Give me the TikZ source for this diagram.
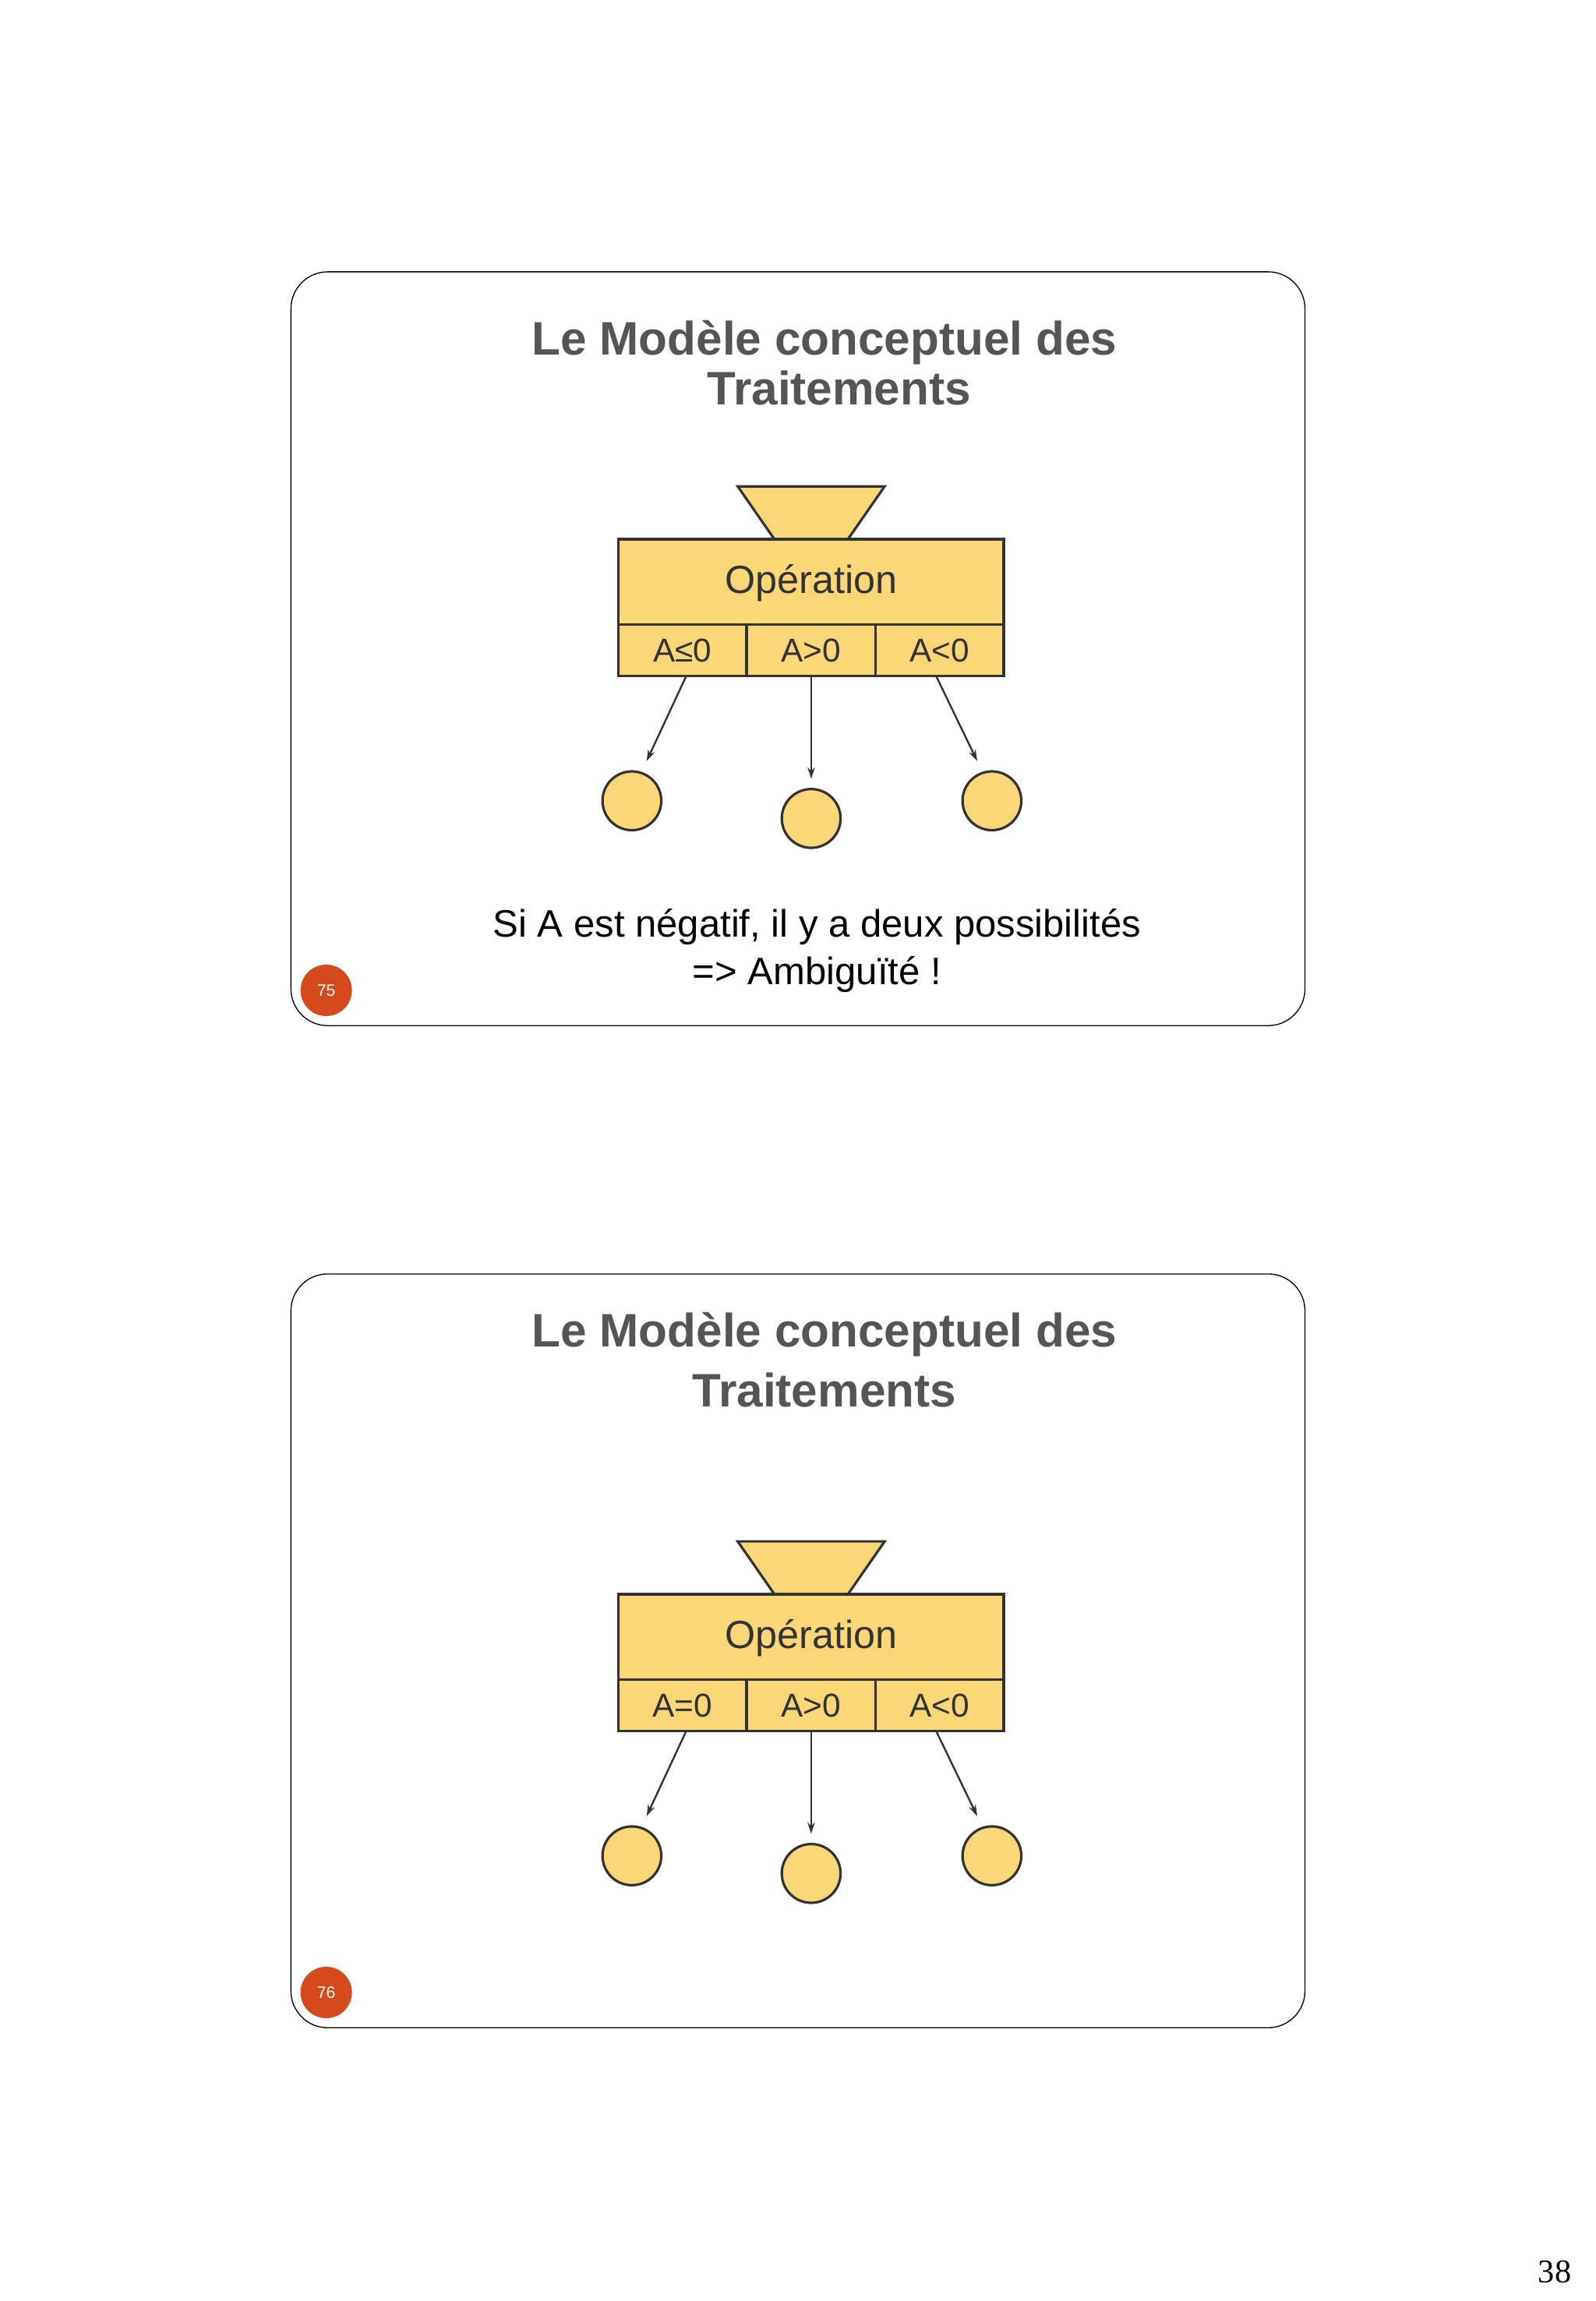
\documentclass[tikz,border=0pt]{standalone}
\usepackage{fontspec}
\usetikzlibrary{arrows.meta}
\setmainfont{Liberation Sans}
\newfontfamily\serifnum{Liberation Serif}
\begin{document}
\begin{tikzpicture}[x=0.05cm,y=-0.05cm,
  fillc/.style={fill=opfill,draw=linec,line width=2.4pt},
  slide/.style={draw=black,line width=1pt,rounded corners=1.25cm},
  ttl/.style={text=titlec,font=\fontsize{45.5}{50}\selectfont\bfseries},
  lbl/.style={text=linec,font=\fontsize{32}{36}\selectfont},
  arr/.style={draw=linec,line width=1.8pt,-{Stealth[length=11pt,width=7pt]}},
  badge/.style={circle,fill=badgec,minimum size=1.75cm,inner sep=0pt,text=white,font=\fontsize{16}{18}\selectfont}]
\definecolor{opfill}{HTML}{FCD778}
\definecolor{linec}{HTML}{333333}
\definecolor{titlec}{HTML}{555555}
\definecolor{badgec}{HTML}{D44A1C}
\useasboundingbox (0,0) rectangle (1086,1566);
\fill[white] (0,0) rectangle (1086,1566);
\foreach \dy/\num in {0/75, 682/76}{
  \begin{scope}[yshift=-\dy*0.05cm]
  \draw[slide] (198,185) rectangle (888,698);
  \node[badge] (b\num) at (222,674) {\num};
  \end{scope}
}
\foreach \dy/\num/\la in {0/75/A≤0, 718/76/A=0}{
  \begin{scope}[yshift=-\dy*0.05cm]
  \draw[fillc] (502,331) -- (602,331) -- (577,367) -- (527,367) -- cycle;
  \draw[fillc] (421,367) rectangle (683,425);
  \draw[fillc] (421,425) rectangle (508,460);
  \draw[fillc] (508,425) rectangle (596,460);
  \draw[fillc] (596,425) rectangle (683,460);
  \node[text=linec,font=\fontsize{38}{42}\selectfont] (op\num) at (552,397) {Opération};
  \node[lbl] (l1\num) at (464.5,443) {\la};
  \node[lbl] (l2\num) at (552,443) {A>0};
  \node[lbl] (l3\num) at (639.5,443) {A<0};
  \node[circle,fillc,minimum size=2cm,inner sep=0pt] (c1\num) at (430,545) {};
  \node[circle,fillc,minimum size=2cm,inner sep=0pt] (c2\num) at (552,557) {};
  \node[circle,fillc,minimum size=2cm,inner sep=0pt] (c3\num) at (675,545) {};
  \coordinate (s1\num) at (467,460); \coordinate (e1\num) at (440,518);
  \coordinate (s2\num) at (552,460); \coordinate (e2\num) at (552,530);
  \coordinate (s3\num) at (637,460); \coordinate (e3\num) at (665,518);
  \draw[arr] (s1\num) -- (e1\num);
  \draw[arr] (s2\num) -- (e2\num);
  \draw[arr] (s3\num) -- (e3\num);
  \end{scope}
}
\node[ttl] (t1a) at (561,233) {Le Modèle conceptuel des};
\node[ttl] (t1b) at (571,264) {Traitements};
\node[ttl] (t2a) at (561,908) {Le Modèle conceptuel des};
\node[ttl] (t2b) at (561,946) {Traitements};
\node[font=\fontsize{37}{40}\selectfont] (s1) at (556,631) {Si A est négatif, il y a deux possibilités};
\node[font=\fontsize{37}{40}\selectfont] (s2) at (556,663) {=> Ambiguïté !};
\node[font=\fontsize{32}{36}\selectfont\serifnum] (pg) at (1058,1546) {38};
\end{tikzpicture}
\end{document}
